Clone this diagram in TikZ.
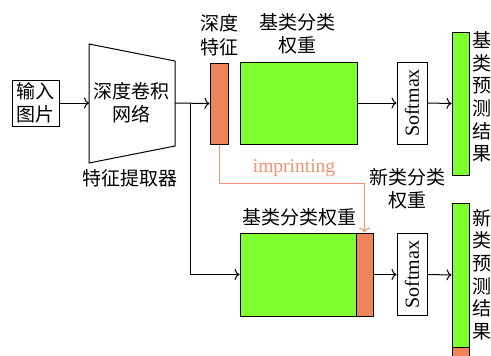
\documentclass[tikz,border=0pt]{standalone}
\usepackage{fontspec}
\setmainfont{Liberation Serif}
\newfontfamily\cjk{Noto Sans CJK SC}
\usetikzlibrary{arrows.meta}
\definecolor{limeg}{HTML}{80FF30}
\definecolor{coralc}{HTML}{F08458}
\definecolor{lcoral}{HTML}{F39272}
\begin{document}
\begin{tikzpicture}[x=1pt,y=-1pt,line width=1pt,
  font=\fontsize{19}{23}\selectfont\cjk,
  arr/.style={-{To[length=5pt,width=11pt]}},
  lbl/.style={inner sep=0pt,align=center},
  smx/.style={draw,fill=white,inner sep=0pt,minimum width=30pt,minimum height=82pt},
  vtxt/.style={inner sep=0pt,align=center,font=\fontsize{19}{22.7}\selectfont\cjk}]
\clip (0,0) rectangle (491,356);
\fill[white] (0,0) rectangle (491,356);
% input
\node[draw,inner sep=0pt,minimum width=47pt,minimum height=46pt,align=center] (in) at (35.5,103) {输入\\图片};
% trapezoid
\coordinate (tl) at (89,44);
\coordinate (tr) at (175,61);
\coordinate (brr) at (175,146);
\coordinate (bl) at (89,163);
\draw (tl) -- (tr) -- (brr) -- (bl) -- cycle;
\coordinate (trapL) at (89,103);
\coordinate (trapR) at (175,103);
\node[lbl] (net) at (131,103) {深度卷积\\网络};
\node[lbl] (fe) at (130,178.5) {特征提取器};
% feature bar
\node[draw,fill=coralc,inner sep=0pt,minimum width=18pt,minimum height=81pt] (feat) at (219,103.5) {};
\node[lbl,font=\fontsize{19}{24}\selectfont\cjk] (featl) at (219,35) {深度\\特征};
% top branch
\node[draw,fill=limeg,inner sep=0pt,minimum width=117pt,minimum height=82pt] (gtop) at (298.5,103) {};
\node[lbl] (gtopl) at (297,34) {基类分类\\权重};
\node[smx] (sm1) at (412,103) {\rotatebox{90}{\rmfamily\fontsize{20}{23}\selectfont Softmax}};
\node[draw,fill=limeg,inner sep=0pt,minimum width=17pt,minimum height=143pt] (bar1) at (460.5,103.5) {};
\node[vtxt] (bar1l) at (481.5,97) {基\\类\\预\\测\\结\\果};
% bottom branch
\node[draw,fill=limeg,inner sep=0pt,minimum width=116pt,minimum height=83pt] (gbot) at (298,274.5) {};
\node[draw,fill=coralc,inner sep=0pt,minimum width=17pt,minimum height=83pt] (nbot) at (364.5,274.5) {};
\node[lbl] (gbotl) at (299.5,217.5) {基类分类权重};
\node[lbl] (nbotl) at (407,189) {新类分类\\权重};
\node[smx] (sm2) at (412,274.5) {\rotatebox{90}{\rmfamily\fontsize{20}{23}\selectfont Softmax}};
\node[draw,fill=limeg,inner sep=0pt,minimum width=17pt,minimum height=144pt] (bar2) at (460.5,275) {};
\node[draw,fill=coralc,inner sep=0pt,minimum width=17pt,minimum height=23pt] (bar2o) at (460.5,358.5) {};
\node[vtxt] (bar2l) at (481.5,274.5) {新\\类\\预\\测\\结\\果};
% connectors
\coordinate (br) at (190,103);
\draw[arr] (in.east) -- (trapL);
\draw[arr] (trapR) -- (feat.west);
\draw[arr] (gtop.east) -- (sm1.west);
\draw[arr] (sm1.east) -- (bar1.west);
\draw[arr] (br) |- (gbot.west);
\draw[arr] (nbot.east) -- (sm2.west);
\draw[arr] (sm2.east) -- (bar2.west);
\draw[arr,lcoral] (feat.south) -- ++(0,39) -| (nbot.north);
\node[lbl,text=lcoral,font=\fontsize{19.5}{23}\selectfont\rmfamily] (imp) at (294,168) {imprinting};
\end{tikzpicture}
\end{document}
